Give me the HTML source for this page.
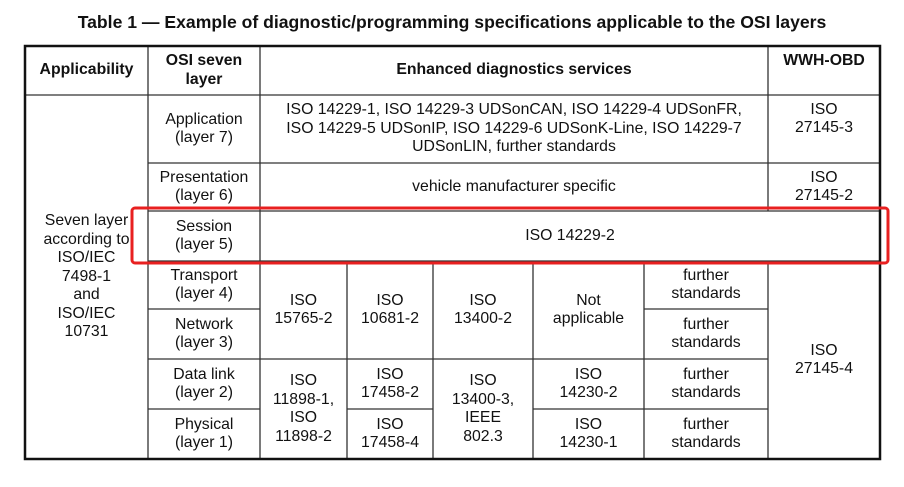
<!DOCTYPE html>
<html><head><meta charset="utf-8"><style>
body{margin:0;background:#fff;width:904px;height:487px;position:relative;overflow:hidden;font-family:"Liberation Sans",Arial,sans-serif;color:#111}
.t{position:absolute;display:flex;align-items:center;justify-content:center;text-align:center;font-size:15.8px;line-height:18.5px;white-space:nowrap}
.b{font-weight:bold}
</style></head><body>
<div class="t b" style="left:0;top:10px;width:904px;height:24px;font-size:17.6px">Table 1 — Example of diagnostic/programming specifications applicable to the OSI layers</div>
<svg width="904" height="487" style="position:absolute;left:0;top:0">
<g stroke="#333" stroke-width="1.3" fill="none">
<line x1="148" y1="46" x2="148" y2="459"/>
<line x1="260" y1="46" x2="260" y2="459"/>
<line x1="768" y1="46" x2="768" y2="211"/>
<line x1="768" y1="261" x2="768" y2="459"/>
<line x1="347" y1="261" x2="347" y2="459"/>
<line x1="433" y1="261" x2="433" y2="459"/>
<line x1="533" y1="261" x2="533" y2="459"/>
<line x1="644" y1="261" x2="644" y2="459"/>
<line x1="25" y1="95" x2="880" y2="95"/>
<line x1="148" y1="163" x2="880" y2="163"/>
<line x1="148" y1="211" x2="880" y2="211"/>
<line x1="148" y1="261" x2="880" y2="261"/>
<line x1="148" y1="309" x2="260" y2="309"/>
<line x1="644" y1="309" x2="768" y2="309"/>
<line x1="148" y1="359" x2="768" y2="359"/>
<line x1="148" y1="409" x2="260" y2="409"/>
<line x1="347" y1="409" x2="433" y2="409"/>
<line x1="533" y1="409" x2="768" y2="409"/>
</g>
<rect x="25" y="46" width="855" height="413" fill="none" stroke="#111" stroke-width="2.5"/>
<rect x="132" y="208" width="756" height="55" rx="3" fill="none" stroke="#e82020" stroke-width="3"/>
</svg>
<div class="t b" style="left:25px;top:46px;width:123px;height:49px">Applicability</div>
<div class="t b" style="left:148px;top:46px;width:112px;height:49px">OSI seven<br>layer</div>
<div class="t b" style="left:260px;top:46px;width:508px;height:49px">Enhanced diagnostics services</div>
<div class="t b" style="left:768px;top:46px;width:112px;height:30px">WWH-OBD</div>
<div class="t" style="left:25px;top:95px;width:123px;height:364px">Seven layer<br>according to<br>ISO/IEC<br>7498-1<br>and<br>ISO/IEC<br>10731</div>
<div class="t" style="left:148px;top:95px;width:112px;height:68px">Application<br>(layer 7)</div>
<div class="t" style="left:148px;top:163px;width:112px;height:48px">Presentation<br>(layer 6)</div>
<div class="t" style="left:148px;top:211px;width:112px;height:50px">Session<br>(layer 5)</div>
<div class="t" style="left:148px;top:261px;width:112px;height:48px">Transport<br>(layer 4)</div>
<div class="t" style="left:148px;top:309px;width:112px;height:50px">Network<br>(layer 3)</div>
<div class="t" style="left:148px;top:359px;width:112px;height:50px">Data link<br>(layer 2)</div>
<div class="t" style="left:148px;top:409px;width:112px;height:50px">Physical<br>(layer 1)</div>
<div class="t" style="left:260px;top:95px;width:508px;height:68px">ISO 14229-1, ISO 14229-3 UDSonCAN, ISO 14229-4 UDSonFR,<br>ISO 14229-5 UDSonIP, ISO 14229-6 UDSonK-Line, ISO 14229-7<br>UDSonLIN, further standards</div>
<div class="t" style="left:260px;top:163px;width:508px;height:48px">vehicle manufacturer specific</div>
<div class="t" style="left:260px;top:211px;width:620px;height:50px">ISO 14229-2</div>
<div class="t" style="left:768px;top:95px;width:112px;height:48px">ISO<br>27145-3</div>
<div class="t" style="left:768px;top:163px;width:112px;height:48px">ISO<br>27145-2</div>
<div class="t" style="left:768px;top:261px;width:112px;height:198px">ISO<br>27145-4</div>
<div class="t" style="left:260px;top:261px;width:87px;height:98px">ISO<br>15765-2</div>
<div class="t" style="left:347px;top:261px;width:86px;height:98px">ISO<br>10681-2</div>
<div class="t" style="left:433px;top:261px;width:100px;height:98px">ISO<br>13400-2</div>
<div class="t" style="left:533px;top:261px;width:111px;height:98px">Not<br>applicable</div>
<div class="t" style="left:644px;top:261px;width:124px;height:48px">further<br>standards</div>
<div class="t" style="left:644px;top:309px;width:124px;height:50px">further<br>standards</div>
<div class="t" style="left:644px;top:359px;width:124px;height:50px">further<br>standards</div>
<div class="t" style="left:644px;top:409px;width:124px;height:50px">further<br>standards</div>
<div class="t" style="left:260px;top:359px;width:87px;height:100px">ISO<br>11898-1,<br>ISO<br>11898-2</div>
<div class="t" style="left:347px;top:359px;width:86px;height:50px">ISO<br>17458-2</div>
<div class="t" style="left:347px;top:409px;width:86px;height:50px">ISO<br>17458-4</div>
<div class="t" style="left:433px;top:359px;width:100px;height:100px">ISO<br>13400-3,<br>IEEE<br>802.3</div>
<div class="t" style="left:533px;top:359px;width:111px;height:50px">ISO<br>14230-2</div>
<div class="t" style="left:533px;top:409px;width:111px;height:50px">ISO<br>14230-1</div>
</body></html>
